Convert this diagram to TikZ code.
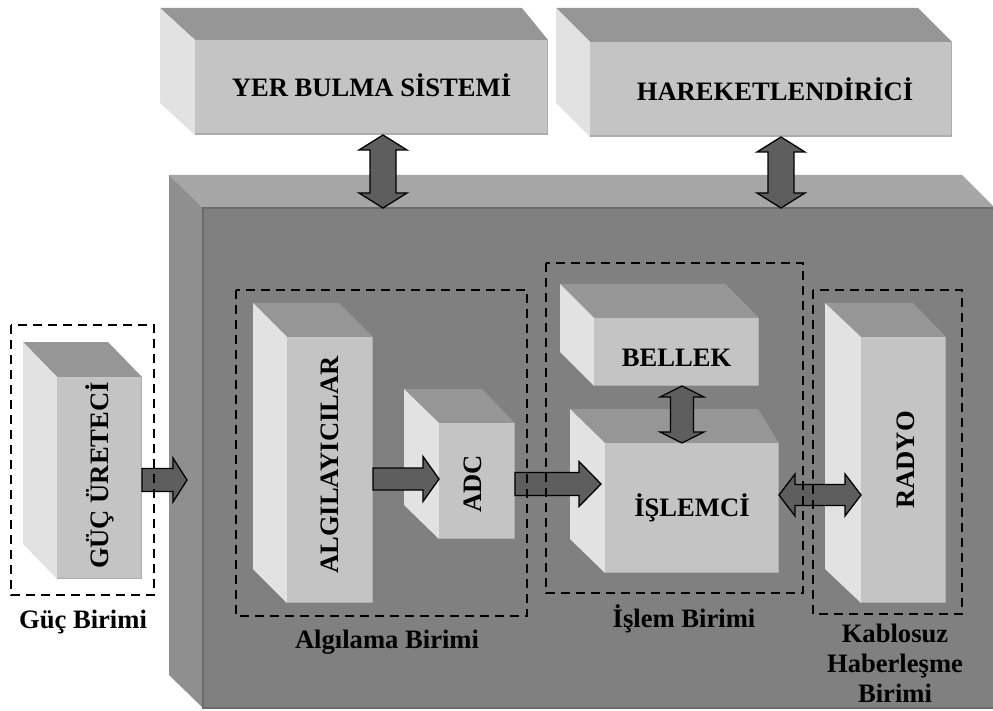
\documentclass[tikz,border=0pt]{standalone}
\usepackage{fontspec}
\setmainfont{Liberation Serif}
\usetikzlibrary{calc}

% face shades
\definecolor{cubefront}{gray}{0.77}
\definecolor{cubeside}{gray}{0.885}
\definecolor{cubetop}{gray}{0.59}
\definecolor{cubeedge}{gray}{0.68}
\definecolor{casefront}{gray}{0.5}
\definecolor{casetop}{gray}{0.65}
\definecolor{caseside}{gray}{0.56}
\definecolor{caseedge}{gray}{0.42}
\definecolor{arrowfill}{gray}{0.37}

% block arrow dimensions (head half-width, shaft half-width, head length)
\newcommand\arrhw{22pt}
\newcommand\arrsw{11.5pt}
\newcommand\arrhl{16pt}

\tikzset{
  x=1pt, y=-1pt,
  labeltext/.style={font=\bfseries\fontsize{26.6}{30}\selectfont, inner sep=0pt},
  frontface/.style={fill=cubefront, inner sep=0pt, outer sep=0pt},
  unitframe/.style={draw=black, line width=2.6pt, dash pattern=on 9pt off 6pt},
  fatarrow/.style={draw=black, fill=arrowfill, line width=1.3pt, line join=miter},
  ahw/.store in=\arrhw, asw/.store in=\arrsw, ahl/.store in=\arrhl,
  rightarrow/.style={fatarrow, to path={let \p1=(\tikztostart), \p2=(\tikztotarget) in
    (\x1,\y1+\arrsw) -- (\x2-\arrhl,\y1+\arrsw) -- (\x2-\arrhl,\y1+\arrhw) -- (\x2,\y1)
    -- (\x2-\arrhl,\y1-\arrhw) -- (\x2-\arrhl,\y1-\arrsw) -- (\x1,\y1-\arrsw) -- cycle}},
  twoway/.style={fatarrow, to path={let \p1=(\tikztostart), \p2=(\tikztotarget) in
    (\x1,\y1) -- (\x1+\arrhl,\y1+\arrhw) -- (\x1+\arrhl,\y1+\arrsw) -- (\x2-\arrhl,\y1+\arrsw)
    -- (\x2-\arrhl,\y1+\arrhw) -- (\x2,\y1) -- (\x2-\arrhl,\y1-\arrhw) -- (\x2-\arrhl,\y1-\arrsw)
    -- (\x1+\arrhl,\y1-\arrsw) -- (\x1+\arrhl,\y1-\arrhw) -- cycle}},
  updown/.style={fatarrow, to path={let \p1=(\tikztostart), \p2=(\tikztotarget) in
    (\x1,\y1) -- (\x1+\arrhw,\y1-\arrhl) -- (\x1+\arrsw,\y1-\arrhl) -- (\x1+\arrsw,\y2+\arrhl)
    -- (\x1+\arrhw,\y2+\arrhl) -- (\x1,\y2) -- (\x1-\arrhw,\y2+\arrhl) -- (\x1-\arrsw,\y2+\arrhl)
    -- (\x1-\arrsw,\y1-\arrhl) -- (\x1-\arrhw,\y1-\arrhl) -- cycle}},
}

% #1 name, #2/#3 back-left/back-right x, #4 back y,
% #5/#6 front left/right x, #7/#8 front top/bottom y
\newcommand\solidblock[8]{%
  \fill[cubetop] (#2,#4) -- (#3,#4) -- (#6,#7) -- (#5,#7) -- cycle;
  \fill[cubeside] (#2,#4) -- (#5,#7) -- (#5,#8) -- (#2,#8-#7+#4) -- cycle;
  \node[frontface, minimum width={(#6-#5)*1pt}, minimum height={(#8-#7)*1pt}]
    (#1) at ({(#5+#6)/2},{(#7+#8)/2}) {};
  \draw[cubeedge, line width=1.5pt] ([yshift=0.75pt]#1.south west)
    -- ([xshift=-0.75pt,yshift=0.75pt]#1.south east) -- ([xshift=-0.75pt]#1.north east);
}

\begin{document}
\begin{tikzpicture}
\useasboundingbox (0,0) rectangle (993,711);
\clip (0,0) rectangle (993,711);

% sensor node casing
\fill[casetop] (169,175) -- (962,175) -- (995,208) -- (203,208) -- cycle;
\fill[caseside] (169,175) -- (203,208) -- (203,708) -- (169,675) -- cycle;
\node[fill=casefront, inner sep=0pt, outer sep=0pt, minimum width=797pt, minimum height=500pt]
  (case) at (601.5,458) {};
\draw[caseedge, line width=1.5pt] (case.south east) -- (case.south west)
  -- (case.north west) -- (case.north east);

% building blocks
\solidblock{yer}{160}{522}{8}{195}{548}{40}{135}
\solidblock{hare}{556}{918}{8}{590}{952}{42}{137}
\solidblock{guc}{23}{108}{342}{57}{142}{377}{579}
\solidblock{alg}{253}{339}{303}{287}{373}{337}{603}
\solidblock{adc}{404}{482}{389}{439}{515}{423}{539}
\solidblock{bellek}{560}{725}{284}{594}{759}{318}{386}
\solidblock{isl}{570}{758}{409}{605}{779}{443}{573}
\solidblock{radyo}{825}{913}{303}{861}{946}{337}{603}

% block texts
\node[labeltext] (yerT) at ([yshift=2pt]yer.center) {YER BULMA SİSTEMİ};
\node[labeltext] (hareT) at ([xshift=4pt]hare.center) {HAREKETLENDİRİCİ};
\node[labeltext, rotate=90] (gucT) at ([yshift=2.5pt]guc.center) {GÜÇ ÜRETECİ};
\node[labeltext, rotate=90] (algT) at ([yshift=5pt]alg.center) {ALGILAYICILAR};
\node[labeltext, rotate=90] (adcT) at ([xshift=-4pt,yshift=-3pt]adc.center) {ADC};
\node[labeltext] (bellekT) at ([yshift=-5.5pt]bellek.center) {BELLEK};
\node[labeltext] (islT) at (isl.center) {İŞLEMCİ};
\node[labeltext, rotate=90] (radyoT) at ([xshift=2pt,yshift=10pt]radyo.center) {RADYO};

% connections
\draw[updown, ahw=24pt, asw=13pt, ahl=15pt] ([xshift=11.5pt]yer.south) to (case.north);
\draw[updown, ahw=24pt, asw=13pt, ahl=15pt] ([xshift=10pt]hare.south) to (case.north);
\draw[rightarrow, ahw=22pt, asw=11.5pt, ahl=14pt] ([yshift=-2pt]guc.east) to ([xshift=-16pt]case.west);
\draw[rightarrow, ahw=22.5pt, asw=11pt, ahl=16pt] ([yshift=-9pt]alg.east) to (adc.west);
\draw[rightarrow, ahw=22.5pt, asw=11.5pt, ahl=22pt] ([yshift=-3pt]adc.east) to ([xshift=-4pt]isl.west);
\draw[updown, ahw=22pt, asw=11.5pt, ahl=11pt] ([xshift=5.5pt]bellek.south) to (isl.north);
\draw[twoway, ahw=21pt, asw=10.5pt, ahl=16pt] ([yshift=13pt]isl.east) to (radyo.west);

% functional unit frames
\draw[unitframe] (11,325) rectangle (154,595);
\draw[unitframe] (236,290) rectangle (527,616);
\draw[unitframe] (546,263) rectangle (803,593);
\draw[unitframe] (813,290) rectangle (962,614);

% unit names
\node[labeltext, anchor=base] (gucL) at (83,628) {Güç Birimi};
\node[labeltext, anchor=base] (algL) at (387,648) {Algılama Birimi};
\node[labeltext, anchor=base] (islL) at (684,627) {İşlem Birimi};
\node[labeltext, anchor=base, align=center] (kabL) at (895,702) {Kablosuz\\Haberleşme\\Birimi};
\end{tikzpicture}
\end{document}
